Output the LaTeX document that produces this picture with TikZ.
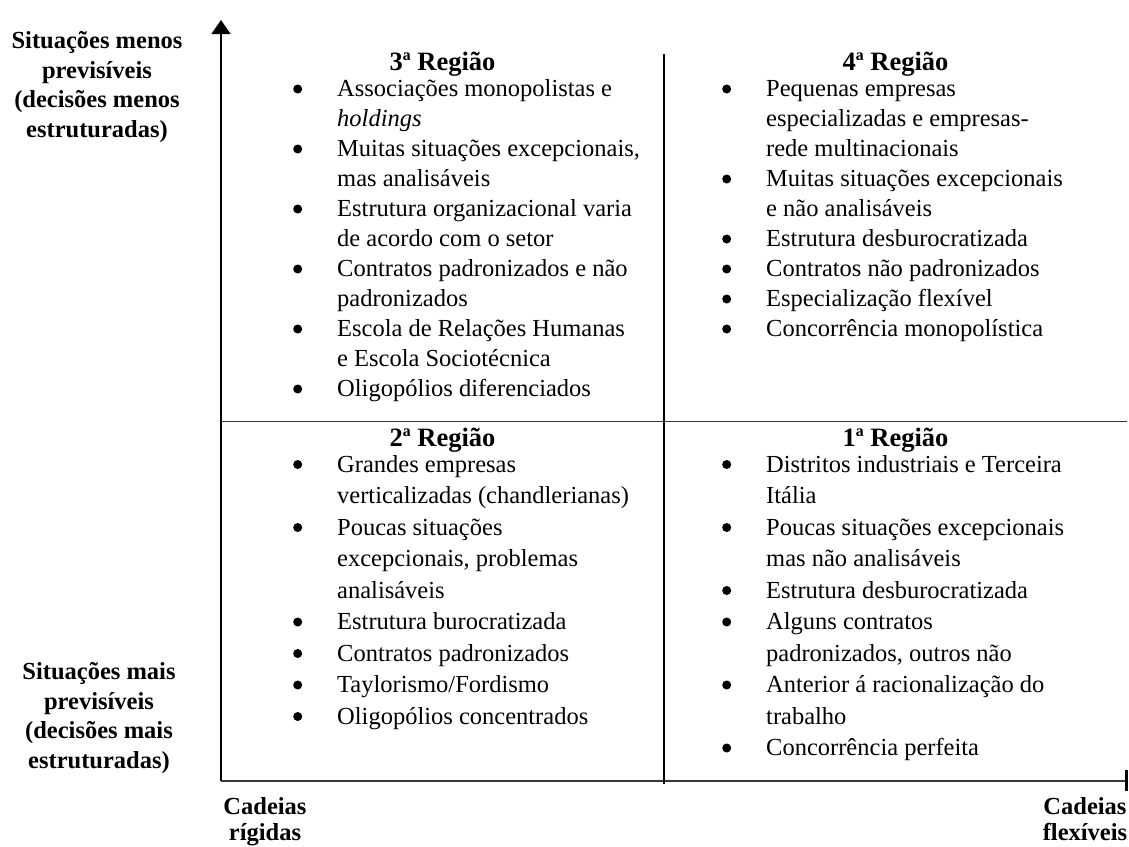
\documentclass[tikz,border=0pt]{standalone}
\usepackage{fontspec}
\setmainfont{Liberation Serif}
\usetikzlibrary{arrows.meta}
% round list mark, drawn so that its size and height are fixed
\newcommand\dotmark{\tikz[x=1pt,y=1pt,baseline=0pt]{\fill[black] (4.5,7.5) circle (4.5);}}
% bullet line and its continuation, both with the same hanging indent
\newcommand\bitem[1]{\makebox[44pt][l]{\dotmark}#1}
\newcommand\bcont[1]{\hspace*{44pt}#1}
\tikzset{
  vline/.style={line width=1.3pt, black},
  hline/.style={line width=1.5pt, black!78},
  cell/.style={anchor=base west, inner sep=0pt, font=\fontsize{24.5}{30}\selectfont},
  celllow/.style={cell, font=\fontsize{24.5}{31.5}\selectfont},
  heading/.style={anchor=base, inner sep=0pt, font=\fontsize{26.5}{30}\selectfont\bfseries},
  axislabel/.style={anchor=base, inner sep=0pt, font=\fontsize{24.5}{29.7}\selectfont\bfseries},
  endlabel/.style={anchor=base, inner sep=0pt, font=\fontsize{24.5}{26.5}\selectfont\bfseries},
}
\begin{document}
\begin{tikzpicture}[x=1pt,y=-1pt]
\useasboundingbox (0,0) rectangle (1129,846);

% axes and quadrant lines
\coordinate (origin) at (221,781);
\coordinate (ytip) at (221,20);
\coordinate (xend) at (1127,781);
\coordinate (midL) at (221,421.5);
\coordinate (midR) at (1127,421.5);
\coordinate (divT) at (664,54);
\coordinate (divB) at (664,784);
\coordinate (tickT) at (1126.5,770);
\coordinate (tickB) at (1126.5,791);

\draw[hline] (origin) -- (xend);
\draw[hline] (midL) -- (midR);
\draw[vline] (divT) -- (divB);
\draw[vline, -{Triangle[width=19pt,length=14pt]}] (origin) -- (ytip);
\draw[line width=3pt] (tickT) -- (tickB);

% quadrant headings
\node[heading] (h3) at (442.5,70) {3ª Região};
\node[heading] (h4) at (895.5,70) {4ª Região};
\node[heading] (h2) at (442.5,446) {2ª Região};
\node[heading] (h1) at (895.5,446) {1ª Região};

% 3rd region
\node[cell] (q3) at (293,96.5) {\begin{tabular}[t]{@{}l@{}}
\bitem{Associações monopolistas e}\\
\bcont{\textit{holdings}}\\
\bitem{Muitas situações excepcionais,}\\
\bcont{mas analisáveis}\\
\bitem{Estrutura organizacional varia}\\
\bcont{de acordo com o setor}\\
\bitem{Contratos padronizados e não}\\
\bcont{padronizados}\\
\bitem{Escola de Relações Humanas}\\
\bcont{e Escola Sociotécnica}\\
\bitem{Oligopólios diferenciados}
\end{tabular}};

% 4th region
\node[cell] (q4) at (722,96.5) {\begin{tabular}[t]{@{}l@{}}
\bitem{Pequenas empresas}\\
\bcont{especializadas e empresas-}\\
\bcont{rede multinacionais}\\
\bitem{Muitas situações excepcionais}\\
\bcont{e não analisáveis}\\
\bitem{Estrutura desburocratizada}\\
\bitem{Contratos não padronizados}\\
\bitem{Especialização flexível}\\
\bitem{Concorrência monopolística}
\end{tabular}};

% 2nd region
\node[celllow] (q2) at (293,472) {\begin{tabular}[t]{@{}l@{}}
\bitem{Grandes empresas}\\
\bcont{verticalizadas (chandlerianas)}\\
\bitem{Poucas situações}\\
\bcont{excepcionais, problemas}\\
\bcont{analisáveis}\\
\bitem{Estrutura burocratizada}\\
\bitem{Contratos padronizados}\\
\bitem{Taylorismo/Fordismo}\\
\bitem{Oligopólios concentrados}
\end{tabular}};

% 1st region
\node[celllow] (q1) at (722,472) {\begin{tabular}[t]{@{}l@{}}
\bitem{Distritos industriais e Terceira}\\
\bcont{Itália}\\
\bitem{Poucas situações excepcionais}\\
\bcont{mas não analisáveis}\\
\bitem{Estrutura desburocratizada}\\
\bitem{Alguns contratos}\\
\bcont{padronizados, outros não}\\
\bitem{Anterior á racionalização do}\\
\bcont{trabalho}\\
\bitem{Concorrência perfeita}
\end{tabular}};

% axis labels
\node[axislabel] (ytop) at (97,48.5) {\begin{tabular}[t]{@{}c@{}}
Situações menos\\ previsíveis\\ (decisões menos\\ estruturadas)\end{tabular}};
\node[axislabel] (ybot) at (99,679.5) {\begin{tabular}[t]{@{}c@{}}
Situações mais\\ previsíveis\\ (decisões mais\\ estruturadas)\end{tabular}};
\node[endlabel] (xleft) at (265,814) {\begin{tabular}[t]{@{}c@{}}
Cadeias\\ rígidas\end{tabular}};
\node[endlabel] (xright) at (1085,814) {\begin{tabular}[t]{@{}c@{}}
Cadeias\\ flexíveis\end{tabular}};
\end{tikzpicture}
\end{document}
